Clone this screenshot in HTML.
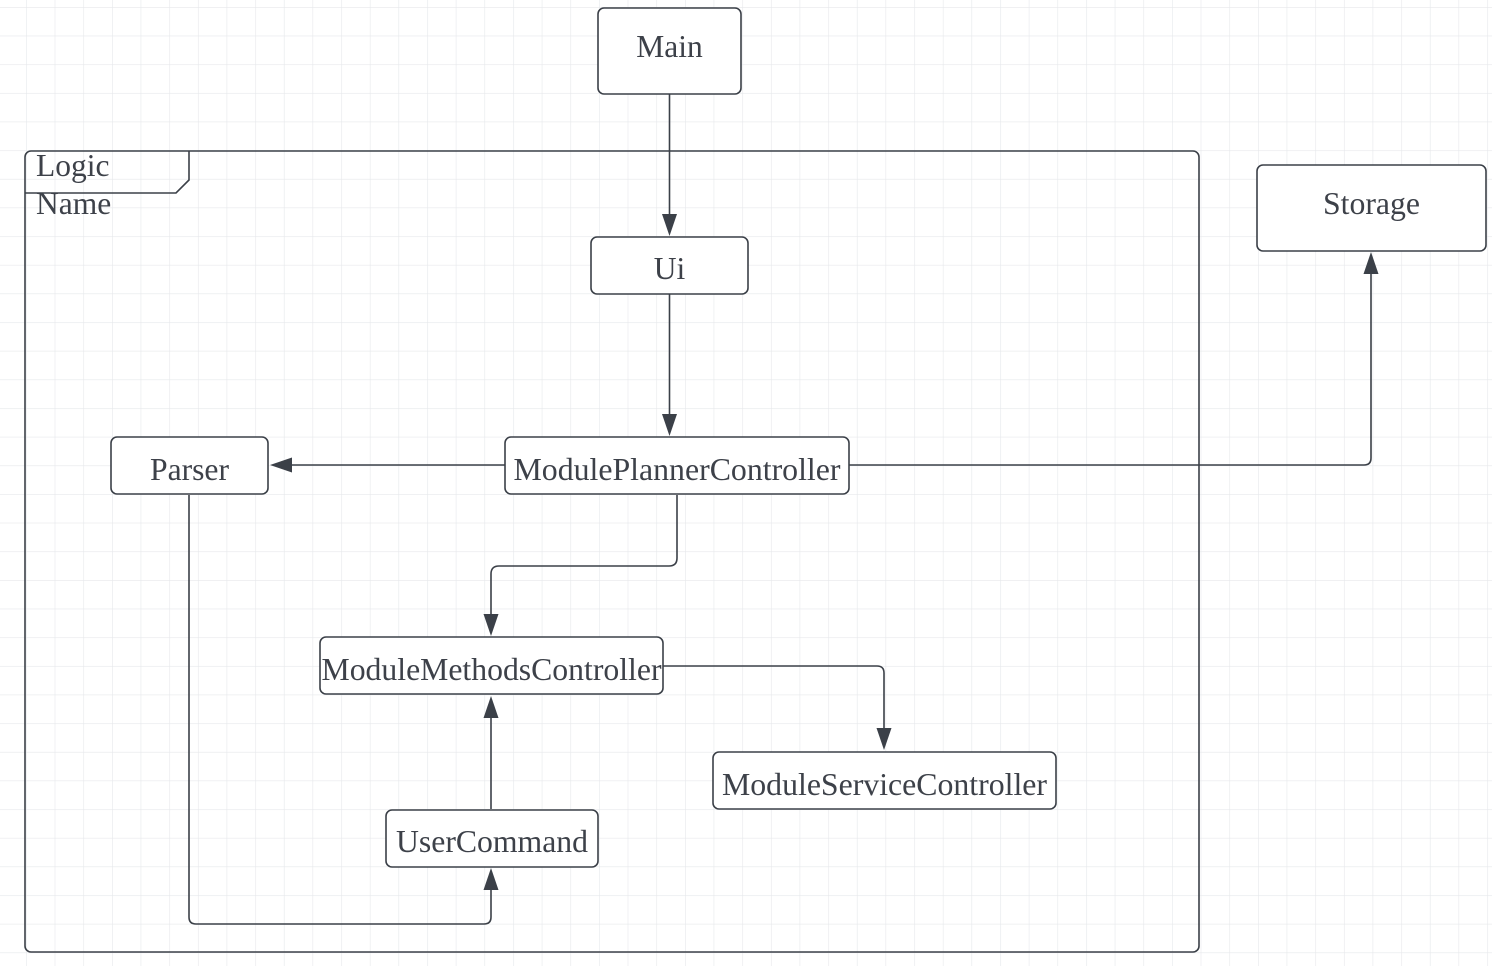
<!DOCTYPE html>
<html><head><meta charset="utf-8"><style>
html,body{margin:0;padding:0;background:#fff;}
svg{display:block;}
text{font-family:"Liberation Serif",serif;fill:#3d4149;}
</style></head><body>
<svg width="1492" height="966" viewBox="0 0 1492 966" xmlns="http://www.w3.org/2000/svg">
<defs>
<pattern id="g" x="-2.6" y="7" width="28.65" height="28.65" patternUnits="userSpaceOnUse">
<path d="M0 0H28.65M0 0V28.65" stroke="#e6e8eb" stroke-width="1.2" fill="none"/>
</pattern>
</defs>
<rect width="1492" height="966" fill="url(#g)"/>
<g fill="none" stroke="#3b4048" stroke-width="1.6">
<rect x="25" y="151" width="1174" height="801" rx="6" fill="none"/>
<path d="M25 193H176L189 180V151" />
<path d="M669.5 94V218"/>
<path d="M669.5 294V418"/>
<path d="M505 465H290"/>
<path d="M849 465H1364Q1371 465 1371 458V272"/>
<path d="M677 495V558Q677 566 669 566H499Q491 566 491 574V618"/>
<path d="M663 666H877Q884 666 884 673V732"/>
<path d="M491 809V716"/>
<path d="M189 495V917Q189 924 196 924H484Q491 924 491 917V888"/>
</g>
<g fill="#3b4048">
<path d="M662 214L677 214L669.5 236Z"/>
<path d="M662 414L677 414L669.5 436Z"/>
<path d="M292 457.5L292 472.5L270 465Z"/>
<path d="M1363.5 274L1378.5 274L1371 252Z"/>
<path d="M483.5 614L498.5 614L491 636Z"/>
<path d="M876.5 728L891.5 728L884 750Z"/>
<path d="M483.5 718L498.5 718L491 696Z"/>
<path d="M483.5 890L498.5 890L491 868Z"/>
</g>
<g fill="#fff" stroke="#3b4048" stroke-width="1.6">
<rect x="598" y="8" width="143" height="86" rx="6"/>
<rect x="1257" y="165" width="229" height="86" rx="6"/>
<rect x="591" y="237" width="157" height="57" rx="6"/>
<rect x="111" y="437" width="157" height="57" rx="6"/>
<rect x="505" y="437" width="344" height="57" rx="6"/>
<rect x="320" y="637" width="343" height="57" rx="6"/>
<rect x="713" y="752" width="343" height="57" rx="6"/>
<rect x="386" y="810" width="212" height="57" rx="6"/>
</g>
<g font-size="31.5" text-anchor="middle">
<text x="669.5" y="57">Main</text>
<text x="1371.5" y="214" textLength="97" lengthAdjust="spacingAndGlyphs">Storage</text>
<text x="669.5" y="279">Ui</text>
<text x="189.5" y="480" textLength="79" lengthAdjust="spacingAndGlyphs">Parser</text>
<text x="677" y="480" textLength="327" lengthAdjust="spacingAndGlyphs">ModulePlannerController</text>
<text x="491.5" y="680" textLength="340" lengthAdjust="spacingAndGlyphs">ModuleMethodsController</text>
<text x="884.5" y="795" textLength="325" lengthAdjust="spacingAndGlyphs">ModuleServiceController</text>
<text x="492" y="852" textLength="192" lengthAdjust="spacingAndGlyphs">UserCommand</text>
</g>
<g font-size="31.5">
<text x="36" y="176">Logic</text>
<text x="36" y="214">Name</text>
</g>
</svg>
</body></html>
